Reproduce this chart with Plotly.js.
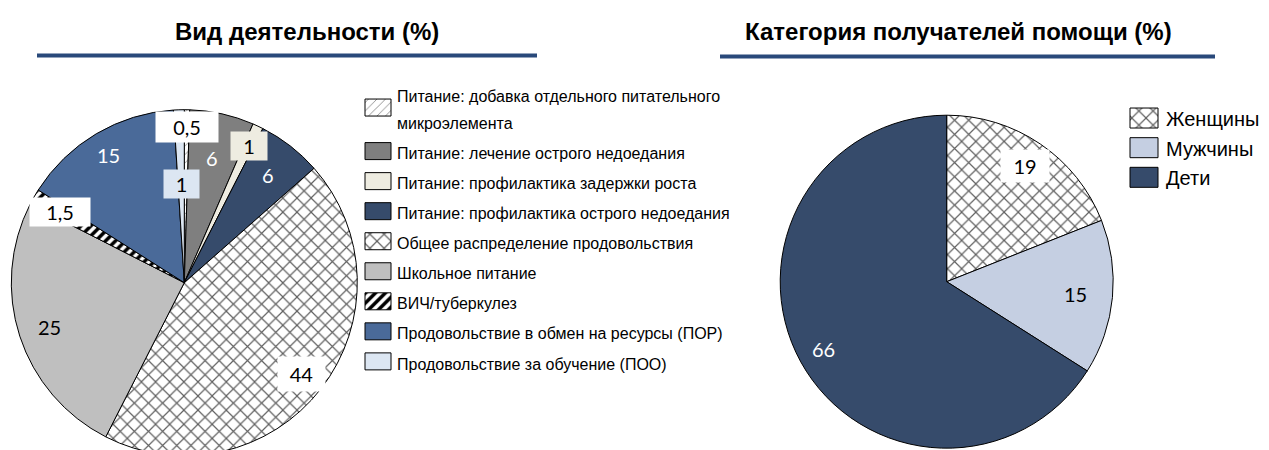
<!DOCTYPE html>
<html><head><meta charset="utf-8">
<script src="https://cdn.plot.ly/plotly-3.0.1.min.js"></script>
<style>html,body{margin:0;padding:0;overflow:hidden;background:#fff;width:1269px;height:450px}
#chart{width:1269px;height:460px;overflow:hidden}</style>
</head><body>
<div id="chart"></div>
<script>
// ---------- data ----------
const activityTitle = 'Вид деятельности (%)';
const activityLabels = [
  'Питание: добавка отдельного питательного<br>микроэлемента',
  'Питание: лечение острого недоедания',
  'Питание: профилактика задержки роста',
  'Питание: профилактика острого недоедания',
  'Общее распределение продовольствия',
  'Школьное питание',
  'ВИЧ/туберкулез',
  'Продовольствие в обмен на ресурсы (ПОР)',
  'Продовольствие за обучение (ПОО)'
];
const activityValues = [0.5, 6, 1, 6, 44, 25, 1.5, 15, 1];

const recipientTitle = 'Категория получателей помощи (%)';
const recipientLabels = ['Женщины', 'Мужчины', 'Дети'];
const recipientValues = [19, 15, 66];

// ---------- styles ----------
const W = 1269, H = 460;
const actColors   = ['#ffffff','#7f7f7f','#eeece1','#364b6b','#ffffff','#bfbfbf','#ffffff','#4a6a99','#dce6f2'];
const actShapes   = ['/','','','','x','','/','',''];
const actFg       = ['#8a8a8a','#000','#000','#000','#606060','#000','#000000','#000','#000'];
const actSize     = [6,8,8,8,10,8,7,8,8];
const actSolid    = [0.15,0.3,0.3,0.3,0.22,0.3,0.5,0.3,0.3];
const actLabRad   = [0.9,0.74,0.876,0.785,0.857,0.82,0.83,0.856,0.57];
const actLabBg    = ['#ffffff',null,'#eeece1',null,'#ffffff',null,'#ffffff',null,'#dce6f2'];
const actLabCol   = ['#000','#fff','#000','#fff','#000','#000','#000','#fff','#000'];
const actLabBox   = [[62,30],null,[36,28],null,[47,34],null,[60,28],null,[35,28]];

const recColors   = ['#ffffff','#c5cfe2','#364b6b'];
const recShapes   = ['x','',''];
const recFg       = ['#606060','#000','#000'];
const recLabRad   = [0.84,0.78,0.845];
const recLabBg    = ['#ffffff',null,null];
const recLabCol   = ['#000','#000','#fff'];
const recLabBox   = [[48,32],null,null];

// pie geometry (px): centre and radius
const leftPie  = {cx:184.3, cy:282.7, r:173};
const rightPie = {cx:946.7, cy:281.7, r:166.5};

function domainOf(p){
  return {x:[(p.cx-p.r)/W,(p.cx+p.r)/W], y:[(H-p.cy-p.r)/H,(H-p.cy+p.r)/H]};
}
const fmt = v => String(v).replace('.', ',');

function labelAnnotations(values, pie, radii, bgs, cols, boxes){
  const total = values.reduce((a,b)=>a+b,0);
  let cum = 0;
  return values.map((v,i)=>{
    const mid = (cum + v/2)/total*2*Math.PI; cum += v;
    const px = pie.cx + radii[i]*pie.r*Math.sin(mid);
    const py = pie.cy - radii[i]*pie.r*Math.cos(mid);
    const a = {xref:'paper', yref:'paper', x:px/W, y:(H-py)/H, xanchor:'center', yanchor:'middle',
      text: fmt(v), showarrow:false, font:{family:'Lato, Open Sans, sans-serif', size:20, color:cols[i]}, borderpad:0};
    if(bgs[i]){ a.bgcolor = bgs[i]; a.width = boxes[i][0]; a.height = boxes[i][1]; }
    return a;
  });
}

const span = (t, s) => '<span style="font-size:' + s + 'px">' + t + '</span>';

const traces = [
  {type:'pie', labels:activityLabels.map(t => span(t, 16)), values:activityValues, sort:false, direction:'clockwise', rotation:0,
   domain:domainOf(leftPie), textinfo:'none', hoverinfo:'label+value', legend:'legend',
   marker:{colors:actColors, line:{color:'#000', width:1},
     pattern:{shape:actShapes, fgcolor:actFg, bgcolor:'#ffffff', size:actSize, solidity:actSolid}}},
  {type:'pie', labels:recipientLabels.map(t => span(t, 20)), values:recipientValues, sort:false, direction:'clockwise', rotation:0,
   domain:domainOf(rightPie), textinfo:'none', hoverinfo:'label+value', legend:'legend2',
   marker:{colors:recColors, line:{color:'#000', width:1},
     pattern:{shape:recShapes, fgcolor:recFg, bgcolor:'#ffffff', size:10, solidity:0.22}}}
];

const titleFont = {family:'Liberation Sans, Arial, sans-serif', size:24, color:'#000'};
const annotations = [
  {xref:'paper', yref:'paper', x:307/W, y:(H-31.5)/H, xanchor:'center', yanchor:'middle', showarrow:false,
   text:'<b>'+activityTitle+'</b>', font:titleFont},
  {xref:'paper', yref:'paper', x:958/W, y:(H-31.5)/H, xanchor:'center', yanchor:'middle', showarrow:false,
   text:'<b>'+recipientTitle+'</b>', font:titleFont}
].concat(labelAnnotations(activityValues, leftPie, actLabRad, actLabBg, actLabCol, actLabBox))
 .concat(labelAnnotations(recipientValues, rightPie, recLabRad, recLabBg, recLabCol, recLabBox));

const lineColor = '#29497a';
const shapes = [
  {type:'line', xref:'paper', yref:'paper', x0:37/W, x1:537/W, y0:(H-55.5)/H, y1:(H-55.5)/H, line:{color:lineColor, width:4}},
  {type:'line', xref:'paper', yref:'paper', x0:720/W, x1:1215/W, y0:(H-56.5)/H, y1:(H-56.5)/H, line:{color:lineColor, width:4}}
];

const layout = {
  width:W, height:H, margin:{l:0,r:0,t:0,b:0,autoexpand:false}, paper_bgcolor:'#fff', showlegend:true,
  legend:{x:357/W, y:(H-74)/H, xanchor:'left', yanchor:'top', bgcolor:'rgba(0,0,0,0)', borderwidth:0,
    font:{family:'Liberation Sans, Arial, sans-serif', size:20.8, color:'#000'}},
  legend2:{x:1126/W, y:(H-98.2)/H, xanchor:'left', yanchor:'top', bgcolor:'rgba(0,0,0,0)', borderwidth:0,
    font:{family:'Liberation Sans, Arial, sans-serif', size:20.5, color:'#000'}},
  annotations:annotations, shapes:shapes, hovermode:false
};

function fixLegendSymbols(){
  document.querySelectorAll('g.legend path.legendpie').forEach(p => p.setAttribute('d','M14,8.5H-12V-8.5H14Z'));
  document.querySelectorAll('g.legend2 path.legendpie').forEach(p => p.setAttribute('d','M12,10H-16V-10H12Z'));
}
const gd = document.getElementById('chart');
Plotly.newPlot(gd, traces, layout, {displayModeBar:false, staticPlot:true}).then(()=>{
  fixLegendSymbols();
  gd.on('plotly_afterplot', fixLegendSymbols);
});
</script>
</body></html>
